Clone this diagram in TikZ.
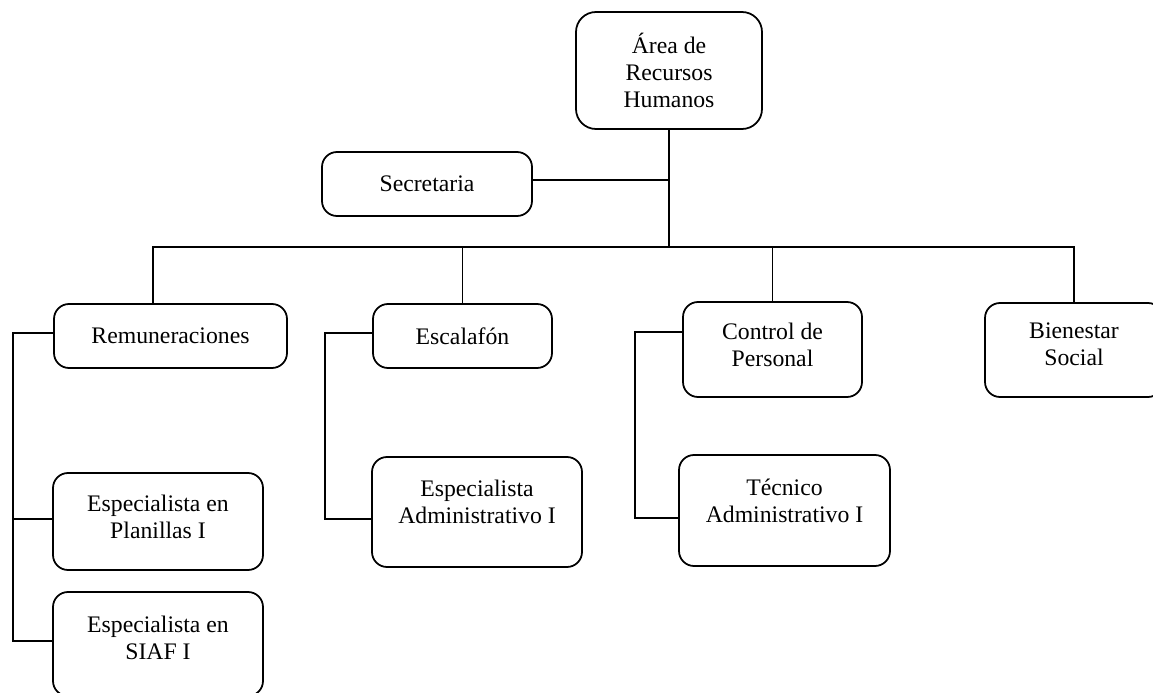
\documentclass[tikz,border=0pt]{standalone}
\usepackage{fontspec}
\setmainfont{Liberation Serif}
\usepackage{tikz}

\begin{document}
\begin{tikzpicture}[
    box/.style={draw, line width=1pt, rounded corners=0.3cm, align=center, inner sep=2pt,
        font=\fontsize{13.5}{15.4}\selectfont},
    lnk/.style={line width=1pt}
]
    \useasboundingbox (0,0) rectangle (23.06,-13.86);

    % jefatura y secretaria
    \node[box, minimum width=3.72cm, minimum height=2.34cm, rounded corners=0.4cm] (area) at (13.38,-1.41) {Área de\\Recursos\\Humanos};
    \node[box, minimum width=4.2cm, minimum height=1.28cm] (secr) at (8.54,-3.68) {Secretaria};

    % unidades
    \node[box, minimum width=4.66cm, minimum height=1.28cm] (remun) at (3.41,-6.72) {Remuneraciones};
    \node[box, minimum width=3.58cm, minimum height=1.28cm] (escal) at (9.25,-6.72) {Escalafón};
    \node[box, minimum width=3.58cm, minimum height=1.9cm, text depth=0.2cm] (control) at (15.45,-6.99) {Control de\\Personal};
    \node[box, minimum width=3.56cm, minimum height=1.88cm, text depth=0.22cm] (bien) at (21.48,-7.0) {Bienestar\\Social};

    % puestos
    \node[box, minimum width=4.2cm, minimum height=1.94cm, text depth=0.2cm] (planil) at (3.16,-10.43) {Especialista en\\Planillas I};
    \node[box, minimum width=4.2cm, minimum height=2.08cm, text depth=0.26cm] (siaf) at (3.16,-12.88) {Especialista en\\SIAF I};
    \node[box, minimum width=4.2cm, minimum height=2.2cm, text depth=0.4cm] (espadm) at (9.54,-10.24) {Especialista\\Administrativo I};
    \node[box, minimum width=4.22cm, minimum height=2.22cm, text depth=0.4cm] (tecadm) at (15.69,-10.21) {Técnico\\Administrativo I};

    % lineas
    \coordinate (bus) at (13.38,-4.94);
    \draw[lnk] (area.south) -- (bus);
    \draw[lnk] ([yshift=0.08cm]secr.east) -- ([yshift=0.08cm]secr.east -| bus);
    \draw[lnk] (bus) -| ([xshift=-0.35cm]remun.north);
    \draw[lnk] (bus) -| (escal.north);
    \draw[lnk] (bus) -| (control.north);
    \draw[lnk] (bus) -| (bien.north);

    \draw[lnk] ([yshift=0.06cm]remun.west) -- ++(-0.8,0) |- ([yshift=0.06cm]siaf.west);
    \draw[lnk] ([yshift=0.05cm]planil.west) -- ++(-0.8,0);
    \draw[lnk] ([yshift=0.06cm]escal.west) -- ++(-0.94,0) |- ([yshift=-0.14cm]espadm.west);
    \draw[lnk] ([yshift=0.35cm]control.west) -- ++(-0.94,0) |- ([yshift=-0.15cm]tecadm.west);
\end{tikzpicture}
\end{document}
